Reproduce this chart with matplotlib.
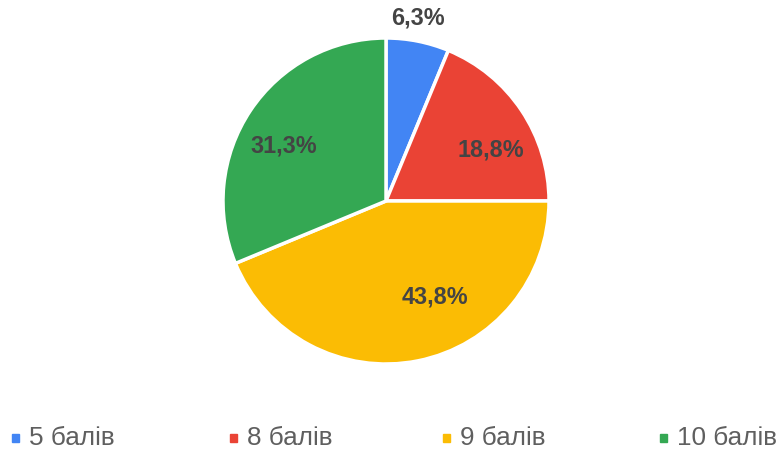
import matplotlib.pyplot as plt
from matplotlib.patches import Rectangle

plt.rcParams['font.family'] = ['Liberation Sans', 'DejaVu Sans']

labels = ['5 балів', '8 балів', '9 балів', '10 балів']
values = [1, 3, 7, 5]
pct_text = ['6,3%', '18,8%', '43,8%', '31,3%']
colors = ['#4285F4', '#EA4335', '#FBBC04', '#34A853']

W, H = 779, 454
fig = plt.figure(figsize=(W / 100, H / 100), dpi=100)

# pie axes: centre (386, 201) px from top, radius 163 px
cx, cy, r = 386, 201, 163
ax = fig.add_axes([(cx - r) / W, (H - cy - r) / H, 2 * r / W, 2 * r / H])
ax.pie(values, colors=colors, startangle=90, counterclock=False,
       wedgeprops=dict(edgecolor='white', linewidth=2.5))
ax.set_xlim(-1, 1)
ax.set_ylim(-1, 1)
ax.set_aspect('equal')
ax.axis('off')

# label positions in data units (Google-style placement)
label_pos = [(0.196, 1.12), (0.64, 0.31), (0.30, -0.59), (-0.63, 0.34)]
for (x, y), t in zip(label_pos, pct_text):
    ax.text(x, y, t, ha='center', va='center', fontsize=16.8,
            fontweight='bold', color='#444444', clip_on=False)

# legend along the bottom
leg_x = [12, 230, 443, 660]
leg_y = 438
for x, lab, c in zip(leg_x, labels, colors):
    fig.patches.append(Rectangle((x / W, (H - leg_y - 4) / H), 7 / W, 8 / H,
                                 transform=fig.transFigure, color=c))
    fig.text((x + 17) / W, (H - leg_y) / H, lab, ha='left', va='center',
             fontsize=18.8, color='#5f5f5f')

plt.savefig('out.png', dpi=100)
